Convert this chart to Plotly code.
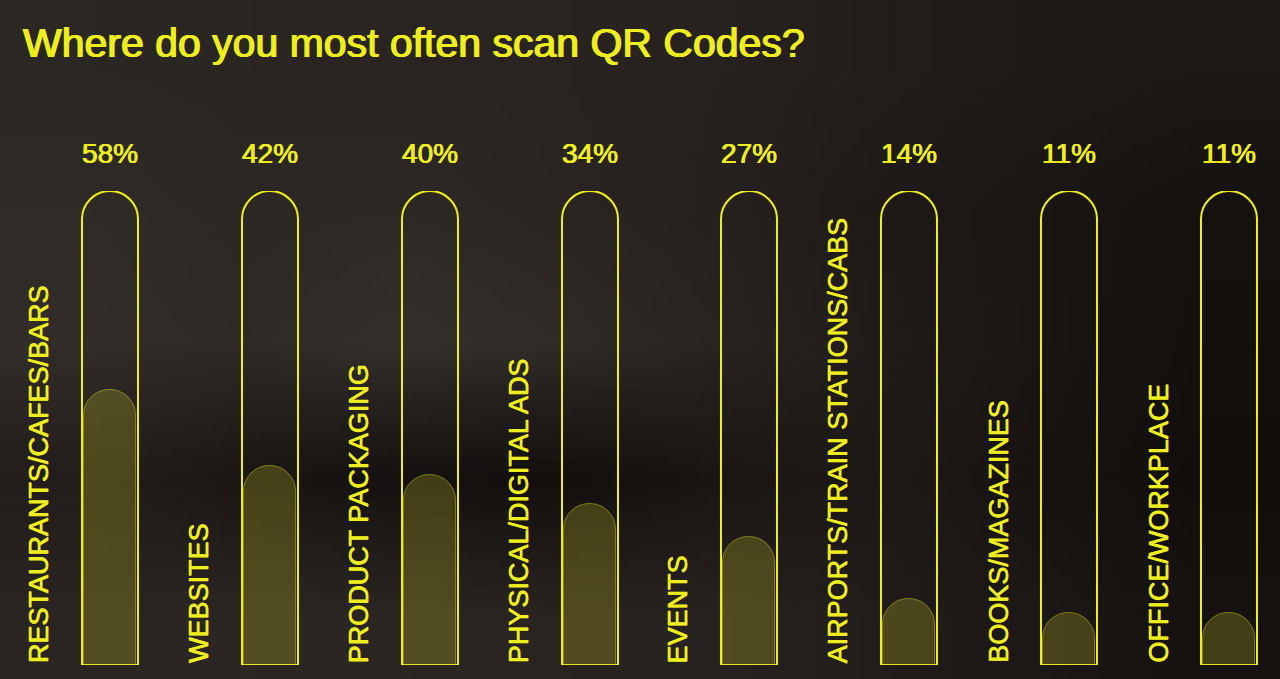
import base64
import struct
import zlib

import plotly.graph_objects as go

# ---------------- data ----------------
categories = [
    "RESTAURANTS/CAFES/BARS",
    "WEBSITES",
    "PRODUCT PACKAGING",
    "PHYSICAL/DIGITAL ADS",
    "EVENTS",
    "AIRPORTS/TRAIN STATIONS/CABS",
    "BOOKS/MAGAZINES",
    "OFFICE/WORKPLACE",
]
values = [58, 42, 40, 34, 27, 14, 11, 11]
full_scale = 100
title_text = "Where do you most often scan QR Codes?"

# ---------------- background (soft blurred photo look) ----------------
bg_rows = [
    ["2b2723", "2a2622", "2a2521", "2a2420", "27221e", "231e1b", "1f1a17", "1c1815"],
    ["2f2b27", "2c2824", "2d2925", "2a2521", "26211e", "1f1a17", "1a1613", "161210"],
    ["322d29", "2e2a26", "34302b", "2f2b27", "292420", "211c19", "1a1613", "14100e"],
    ["231e1b", "1a1613", "141110", "120f0d", "1a1613", "1e1916", "171311", "110e0c"],
    ["2a2521", "2c2723", "2b2622", "2a2420", "282320", "221d1a", "1c1815", "151210"],
]


def make_png(rows):
    h = len(rows)
    w = len(rows[0])
    raw = b""
    for r in rows:
        raw += b"\x00" + b"".join(bytes.fromhex(c) for c in r)

    def chunk(tag, data):
        c = struct.pack(">I", len(data)) + tag + data
        return c + struct.pack(">I", zlib.crc32(tag + data) & 0xFFFFFFFF)

    png = b"\x89PNG\r\n\x1a\n"
    png += chunk(b"IHDR", struct.pack(">IIBBBBB", w, h, 8, 2, 0, 0, 0))
    png += chunk(b"IDAT", zlib.compress(raw, 9))
    png += chunk(b"IEND", b"")
    return "data:image/png;base64," + base64.b64encode(png).decode()


W, H = 1280, 679
m_top, m_bot = 191, 14
plot_h = H - m_top - m_bot

YEL = "#eeee1f"
FONT = "Liberation Sans, Arial, sans-serif"
THICK = "0.4px 0 0 #eeee1f, -0.4px 0 0 #eeee1f"

x = list(range(len(categories)))

spacing = 159.87
x0_px = 110

fig = go.Figure()

# capsule outlines
fig.add_trace(go.Bar(
    x=x, y=[full_scale] * len(x), width=56 / spacing,
    marker=dict(color="rgba(0,0,0,0)", line=dict(color=YEL, width=2), cornerradius="50%"),
    hoverinfo="skip", showlegend=False, xaxis="x", yaxis="y",
))
# fills (own overlaying axes so each bar gets its own rounded top)
fig.add_trace(go.Bar(
    x=x, y=values, width=52 / spacing,
    marker=dict(color="rgba(215,205,40,0.24)",
                line=dict(color="rgba(225,225,40,0.45)", width=1),
                cornerradius="50%"),
    hoverinfo="skip", showlegend=False, xaxis="x2", yaxis="y2",
))

annotations = []
for i, (c, v) in enumerate(zip(categories, values)):
    annotations.append(dict(
        x=i, y=full_scale, xref="x", yref="y", text=f"{v}%", showarrow=False,
        yshift=38, yanchor="middle", xanchor="center",
        font=dict(family=FONT, size=28, color=YEL, shadow=THICK),
    ))
    annotations.append(dict(
        x=i, y=0, xref="x", yref="y", text=c, showarrow=False, textangle=-90,
        xshift=-71, yanchor="bottom", xanchor="center",
        font=dict(family=FONT, size=27, color=YEL, shadow=THICK),
    ))

xr = [-x0_px / spacing, (W - x0_px) / spacing]
fig.update_layout(
    width=W, height=H,
    margin=dict(l=0, r=0, t=m_top, b=m_bot, pad=0),
    paper_bgcolor="#221e1a", plot_bgcolor="rgba(0,0,0,0)",
    barmode="overlay", bargap=0,
    xaxis=dict(range=xr, visible=False, fixedrange=True),
    yaxis=dict(range=[0, full_scale], visible=False, fixedrange=True),
    xaxis2=dict(range=xr, visible=False, fixedrange=True, overlaying="x"),
    yaxis2=dict(range=[0, full_scale], visible=False, fixedrange=True, overlaying="y"),
    title=dict(text=title_text, x=23 / W, xanchor="left", xref="container",
               y=1 - 43 / H, yanchor="middle", yref="container",
               font=dict(family=FONT, size=41, color=YEL,
                         shadow="0.7px 0 0 #eeee1f, -0.7px 0 0 #eeee1f")),
    annotations=annotations,
    images=[dict(source=make_png(bg_rows), xref="paper", yref="paper",
                 x=0, y=1 + m_top / plot_h, sizex=1, sizey=H / plot_h,
                 xanchor="left", yanchor="top", sizing="stretch", layer="below")],
)

fig.write_html(
    "out.html",
    config={"displayModeBar": False},
    post_script="document.body.style.margin='0';document.body.style.background='#221e1a';",
)
